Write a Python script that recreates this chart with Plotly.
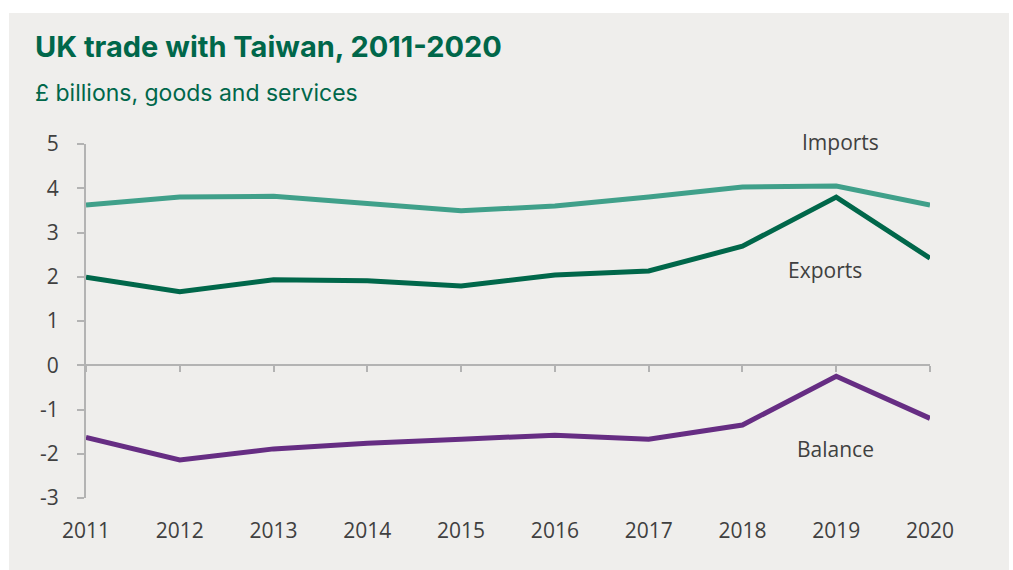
import plotly.graph_objects as go

years = [2011, 2012, 2013, 2014, 2015, 2016, 2017, 2018, 2019, 2020]
imports = [3.62, 3.80, 3.82, 3.66, 3.49, 3.60, 3.80, 4.03, 4.05, 3.62]
exports = [1.99, 1.66, 1.93, 1.91, 1.79, 2.04, 2.13, 2.69, 3.80, 2.42]
balance = [-1.63, -2.14, -1.89, -1.76, -1.67, -1.58, -1.67, -1.35, -0.25, -1.20]
y_ticks = [5, 4, 3, 2, 1, 0, -1, -2, -3]
y_tick_text = ["5", "4", "3", "2", "1", "0", "-1", "-2", "-3"]

C_IMP = "#40A08A"
C_EXP = "#00674A"
C_BAL = "#662D83"
C_TXT = "#404040"
C_AX = "#B3B3B3"
BG = "#EFEEEC"

fig = go.Figure()
fig.add_trace(go.Scatter(x=years, y=imports, mode="lines", line=dict(color=C_IMP, width=5), name="Imports"))
fig.add_trace(go.Scatter(x=years, y=exports, mode="lines", line=dict(color=C_EXP, width=5), name="Exports"))
fig.add_trace(go.Scatter(x=years, y=balance, mode="lines", line=dict(color=C_BAL, width=5), name="Balance"))
# invisible trace to create the zero-line axis
fig.add_trace(go.Scatter(x=years, y=[0] * len(years), mode="lines", line=dict(width=0), xaxis="x2",
                         hoverinfo="skip", showlegend=False))

fig.update_layout(
    width=1013, height=570,
    margin=dict(l=86, r=83, t=144, b=72),
    paper_bgcolor="white",
    plot_bgcolor=BG,
    showlegend=False,
    font=dict(family="Open Sans", color=C_TXT, size=21),
    xaxis=dict(range=[2011, 2020], tickvals=years, showline=False, showgrid=False, zeroline=False,
               ticks="", tickfont=dict(size=21, color=C_TXT), ticklabelstandoff=18),
    xaxis2=dict(range=[2011, 2020], tickvals=years, overlaying="x", anchor="free", position=0.375,
                side="bottom", showline=True, linecolor=C_AX, linewidth=2, ticks="outside", ticklen=6,
                tickwidth=2, tickcolor=C_AX, showticklabels=False, showgrid=False, zeroline=False),
    yaxis=dict(range=[-3, 5], tickvals=y_ticks, ticktext=y_tick_text, showline=True, linecolor=C_AX,
               linewidth=2, ticks="outside", ticklen=7, tickwidth=2, tickcolor=C_AX, showgrid=False,
               zeroline=False, tickfont=dict(size=21, color=C_TXT), ticklabelstandoff=14),
)

fig.add_shape(type="rect", xref="paper", yref="paper",
              x0=(9 - 86) / 844, x1=(1009 - 86) / 844, y0=(498 - 570) / 354, y1=(498 - 13) / 354,
              fillcolor=BG, line=dict(width=0), layer="below")

fig.add_annotation(text="<b>UK trade with Taiwan, 2011-2020</b>", xref="paper", yref="paper",
                   x=(33 - 86) / 844, y=(498 - 47) / 354, xanchor="left", yanchor="middle", showarrow=False,
                   font=dict(family="Inter", size=29, color="#00674A"))
fig.add_annotation(text="£ billions, goods and services", xref="paper", yref="paper",
                   x=(33 - 86) / 844, y=(498 - 93) / 354, xanchor="left", yanchor="middle", showarrow=False,
                   font=dict(family="Inter", size=23, color="#00674A"))

for txt, xv, yv, ys in [("Imports", 2019.05, 5.0, 2), ("Exports", 2018.88, 2.15, 0), ("Balance", 2018.99, -1.9, 0)]:
    fig.add_annotation(text=txt, x=xv, y=yv, yshift=ys, xanchor="center", yanchor="middle", showarrow=False,
                       font=dict(family="Open Sans", size=21, color=C_TXT))

fig.write_html("out.html")
